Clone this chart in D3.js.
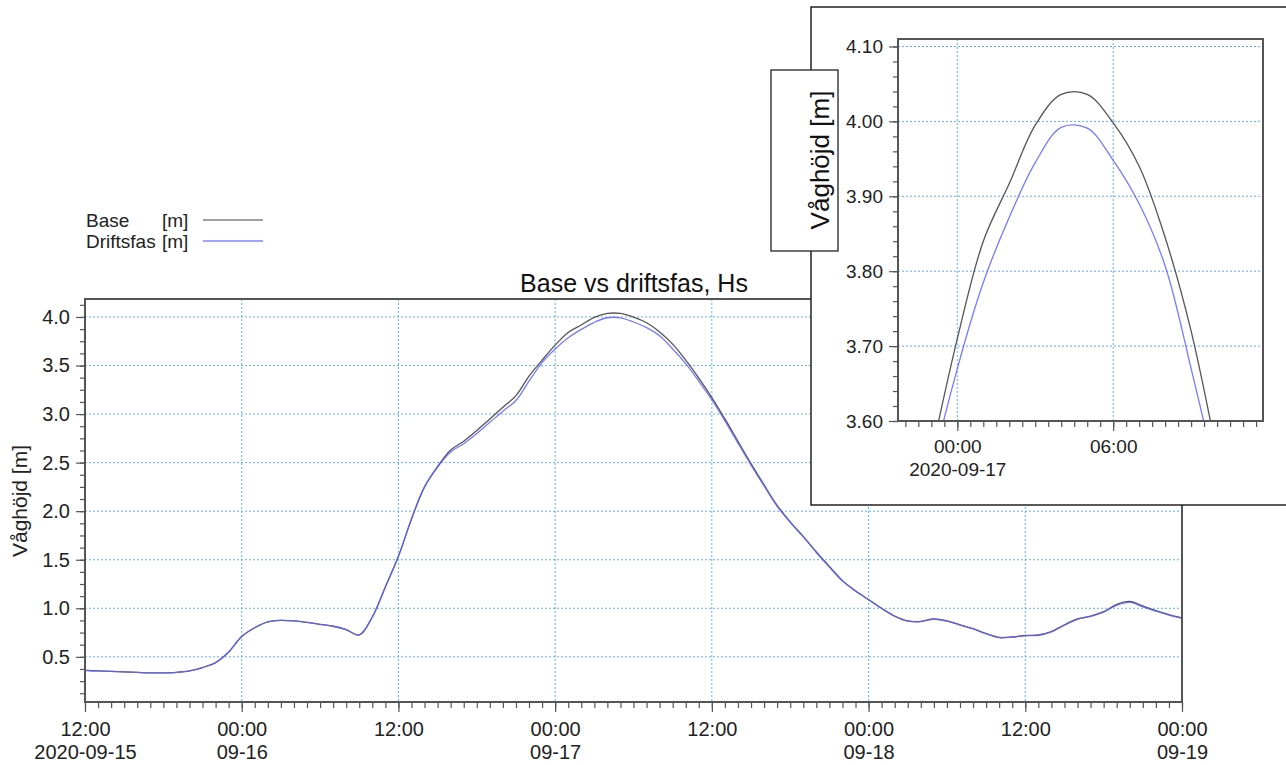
<!DOCTYPE html>
<meta charset="utf-8">
<html>
<head>
<script src="https://d3js.org/d3.v7.min.js"></script>
<style>
  body { margin: 0; background: #fff; }
  svg { font-family: "Liberation Sans", Arial, sans-serif; }
  .grid line { stroke: #5aaeff; stroke-dasharray: 2,2; stroke-width: 1; }
  .axis path { display: none; }
  .axis line { stroke: #555; stroke-width: 1.2; }
  .axis text { fill: #222; }
</style>
</head>
<body>
<script>
// hourly values from 2020-09-15 12:00 to 2020-09-19 00:00
const start = new Date(2020, 8, 15, 12);
const baseHs = [
  0.36, 0.355, 0.35, 0.345, 0.34, 0.335, 0.335, 0.34, 0.355, 0.39,
  0.44, 0.55, 0.71, 0.80, 0.86, 0.875, 0.87, 0.855, 0.835, 0.815,
  0.78, 0.725, 0.91, 1.22, 1.535, 1.92, 2.25, 2.46, 2.63, 2.72,
  2.83, 2.95, 3.07, 3.19, 3.39, 3.555, 3.71, 3.84, 3.917, 3.995,
  4.036, 4.036, 3.998, 3.94, 3.845, 3.72, 3.555, 3.37, 3.17, 2.95,
  2.72, 2.49, 2.27, 2.06, 1.89, 1.74, 1.58, 1.43, 1.285, 1.18,
  1.09, 1.00, 0.92, 0.87, 0.865, 0.89, 0.87, 0.83, 0.79, 0.74,
  0.70, 0.705, 0.72, 0.725, 0.76, 0.83, 0.89, 0.92, 0.965, 1.04,
  1.07, 1.025, 0.975, 0.935, 0.90
];
const driftHs = [
  0.36, 0.355, 0.35, 0.345, 0.34, 0.335, 0.335, 0.34, 0.355, 0.39,
  0.44, 0.55, 0.71, 0.80, 0.86, 0.875, 0.87, 0.855, 0.835, 0.815,
  0.78, 0.725, 0.91, 1.22, 1.535, 1.92, 2.25, 2.455, 2.61, 2.695,
  2.80, 2.915, 3.03, 3.14, 3.34, 3.53, 3.67, 3.785, 3.872, 3.945,
  3.992, 3.991, 3.948, 3.89, 3.807, 3.67, 3.52, 3.34, 3.145, 2.93,
  2.70, 2.475, 2.26, 2.05, 1.885, 1.735, 1.575, 1.425, 1.28, 1.177,
  1.088, 0.998, 0.918, 0.868, 0.862, 0.887, 0.867, 0.827, 0.787, 0.738,
  0.698, 0.702, 0.718, 0.722, 0.757, 0.826, 0.886, 0.916, 0.96, 1.03,
  1.06, 1.015, 0.97, 0.93, 0.895
];
const seriesNames = ["Base", "Driftsfas"];
const seriesUnits = ["[m]", "[m]"];
const seriesColors = ["#555555", "#6262ff"];
const seriesOpacity = [1, 0.85];
const mainYTicks = [0.5, 1.0, 1.5, 2.0, 2.5, 3.0, 3.5, 4.0];
const insetYTicks = [3.60, 3.70, 3.80, 3.90, 4.00, 4.10];

const times = baseHs.map((v, i) => d3.timeHour.offset(start, i));
const series = [baseHs, driftHs].map(vals => vals.map((v, i) => ({t: times[i], v})));

const W = 1286, H = 765;
const svg = d3.select("body").append("svg").attr("width", W).attr("height", H);
svg.append("rect").attr("width", W).attr("height", H).attr("fill", "#fff");

const hm = d3.timeFormat("%H:%M");

function drawPanel(g, o) {
  const x = d3.scaleTime().domain(o.xDomain).range([o.left, o.right]);
  const y = d3.scaleLinear().domain(o.yDomain).range([o.bottom, o.top]);

  // grid
  const grid = g.append("g").attr("class", "grid");
  grid.selectAll(".gx").data(o.xMajor.filter(d => x(d) > o.left + 1 && x(d) < o.right - 1)).join("line")
    .attr("x1", d => x(d)).attr("x2", d => x(d)).attr("y1", o.top).attr("y2", o.bottom);
  grid.selectAll(".gy").data(o.yMajor).join("line")
    .attr("x1", o.left).attr("x2", o.right).attr("y1", d => y(d)).attr("y2", d => y(d));

  // lines
  const clipId = "clip" + o.id;
  g.append("clipPath").attr("id", clipId).append("rect")
    .attr("x", o.left).attr("y", o.top).attr("width", o.right - o.left).attr("height", o.bottom - o.top);
  const line = d3.line().curve(d3.curveCatmullRom.alpha(0.5)).x(d => x(d.t)).y(d => y(d.v));
  g.append("g").attr("clip-path", `url(#${clipId})`)
    .selectAll("path").data(series).join("path")
    .attr("d", line).attr("fill", "none")
    .attr("stroke", (d, i) => seriesColors[i])
    .attr("stroke-opacity", (d, i) => seriesOpacity[i])
    .attr("stroke-width", 1.3);

  // y axis
  g.append("g").attr("class", "axis").attr("transform", `translate(${o.left},0)`)
    .call(d3.axisLeft(y).tickValues(o.yMinor).tickSize(5).tickFormat(""));
  g.append("g").attr("class", "axis").attr("transform", `translate(${o.left},0)`)
    .call(d3.axisLeft(y).tickValues(o.yMajor).tickSize(9).tickPadding(6).tickFormat(d3.format(o.yFmt)))
    .selectAll("text").style("font-size", o.fs + "px");

  // x axis
  g.append("g").attr("class", "axis").attr("transform", `translate(0,${o.bottom})`)
    .call(d3.axisBottom(x).tickValues(o.xMinor).tickSize(6).tickFormat(""));
  const xa = g.append("g").attr("class", "axis").attr("transform", `translate(0,${o.bottom})`)
    .call(d3.axisBottom(x).tickValues(o.xMajor).tickSize(10).tickFormat(""));
  xa.selectAll(".tick").each(function(d, i) {
    const t = d3.select(this).append("text").attr("fill", "#222")
      .attr("text-anchor", "middle").style("font-size", o.fs + "px");
    t.append("tspan").attr("x", 0).attr("y", o.lab1).text(hm(d));
    const second = o.second(d, i);
    if (second) t.append("tspan").attr("x", 0).attr("y", o.lab2).text(second);
  });

  // frame
  g.append("rect").attr("x", o.left).attr("y", o.top)
    .attr("width", o.right - o.left).attr("height", o.bottom - o.top)
    .attr("fill", "none").attr("stroke", "#555").attr("stroke-width", 2);
}

// main chart
const mainG = svg.append("g");
drawPanel(mainG, {
  id: "main",
  left: 85, right: 1182, top: 299, bottom: 702,
  xDomain: [start, new Date(2020, 8, 19, 0)],
  yDomain: [0.035, 4.185],
  yMajor: mainYTicks,
  yMinor: d3.range(1, 34).map(k => k * 0.125),
  yFmt: ".1f",
  xMajor: d3.timeHour.every(12).range(start, new Date(2020, 8, 19, 0, 1)),
  xMinor: d3.timeHour.range(start, new Date(2020, 8, 19, 0, 1)),
  fs: 20, lab1: 34, lab2: 57,
  second: (d, i) => i === 0 ? d3.timeFormat("%Y-%m-%d")(d) : (d.getHours() === 0 ? d3.timeFormat("%m-%d")(d) : null)
});

svg.append("text").attr("x", 634).attr("y", 292).attr("text-anchor", "middle")
  .style("font-size", "25px").attr("fill", "#111").text("Base vs driftsfas, Hs");

svg.append("text").attr("transform", "translate(27,501) rotate(-90)")
  .attr("text-anchor", "middle").style("font-size", "21px").attr("fill", "#222").text("Våghöjd [m]");

// legend
const leg = svg.append("g").selectAll("g").data(seriesNames).join("g")
  .attr("transform", (d, i) => `translate(0,${220 + i * 21})`);
leg.append("text").attr("x", 86).attr("y", 7).style("font-size", "19px").attr("fill", "#222").text(d => d);
leg.append("text").attr("x", 162).attr("y", 7).style("font-size", "19px").attr("fill", "#222").text((d, i) => seriesUnits[i]);
leg.append("line").attr("x1", 203).attr("x2", 263).attr("y1", 0).attr("y2", 0)
  .attr("stroke", (d, i) => i === 0 ? "#808080" : "#8585ff").attr("stroke-width", 1.3);

// inset
const insetG = svg.append("g");
insetG.append("rect").attr("x", 811).attr("y", 7).attr("width", 500).attr("height", 498)
  .attr("fill", "#fff").attr("stroke", "#222").attr("stroke-width", 1.5);
const i0 = new Date(2020, 8, 16, 21, 43), i1 = new Date(2020, 8, 17, 11, 46);
drawPanel(insetG, {
  id: "inset",
  left: 898, right: 1263, top: 39, bottom: 421,
  xDomain: [i0, i1],
  yDomain: [3.60, 4.11],
  yMajor: insetYTicks,
  yMinor: d3.range(0, 26).map(k => 3.60 + k * 0.02),
  yFmt: ".2f",
  xMajor: d3.timeHour.every(6).range(i0, i1),
  xMinor: d3.timeMinute.every(30).range(i0, i1),
  fs: 19, lab1: 32, lab2: 55,
  second: (d, i) => i === 0 ? d3.timeFormat("%Y-%m-%d")(d) : null
});

insetG.append("rect").attr("x", 771).attr("y", 70).attr("width", 67).attr("height", 181)
  .attr("fill", "#fff").attr("stroke", "#222").attr("stroke-width", 1.3);
insetG.append("text").attr("transform", "translate(829,160) rotate(-90)")
  .attr("text-anchor", "middle").style("font-size", "26px").attr("fill", "#111").text("Våghöjd [m]");
</script>
</body>
</html>
